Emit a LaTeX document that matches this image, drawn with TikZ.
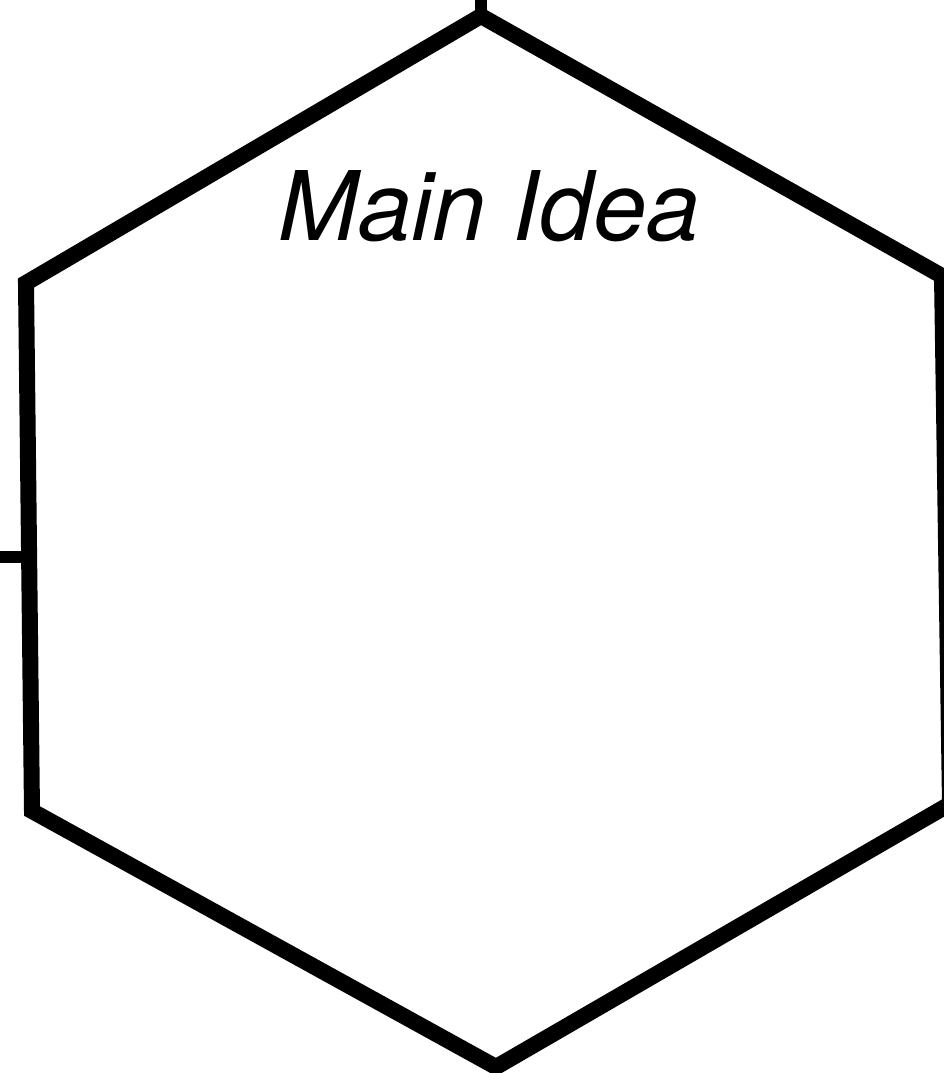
\documentclass[tikz,border=0pt]{standalone}
\usepackage{fontspec}
\setsansfont{TeX Gyre Heros}
\begin{document}
\begin{tikzpicture}[x=1pt,y=-1pt,
  hexline/.style={line width=16pt,line join=miter,black},
  stub/.style={line width=12pt,black},
  label/.style={font=\sffamily\itshape\fontsize{96}{110}\selectfont,anchor=base,inner sep=0pt}]
\useasboundingbox (0,0) rectangle (943,1073);
\coordinate (T) at (481,16);
\coordinate (TR) at (942,276);
\coordinate (BR) at (950,804);
\coordinate (B) at (496,1067);
\coordinate (BL) at (32,811);
\coordinate (TL) at (26,283);
\draw[hexline] (T) -- (TR) -- (BR) -- (B) -- (BL) -- (TL) -- cycle;
\coordinate (topin) at (481,-10);
\coordinate (leftin) at (-10,557);
\coordinate (leftend) at (26,557);
\draw[stub] (topin) -- (T);
\draw[stub] (leftin) -- (leftend);
\node[label] (main) at (489,240) {Main Idea};
\end{tikzpicture}
\end{document}
